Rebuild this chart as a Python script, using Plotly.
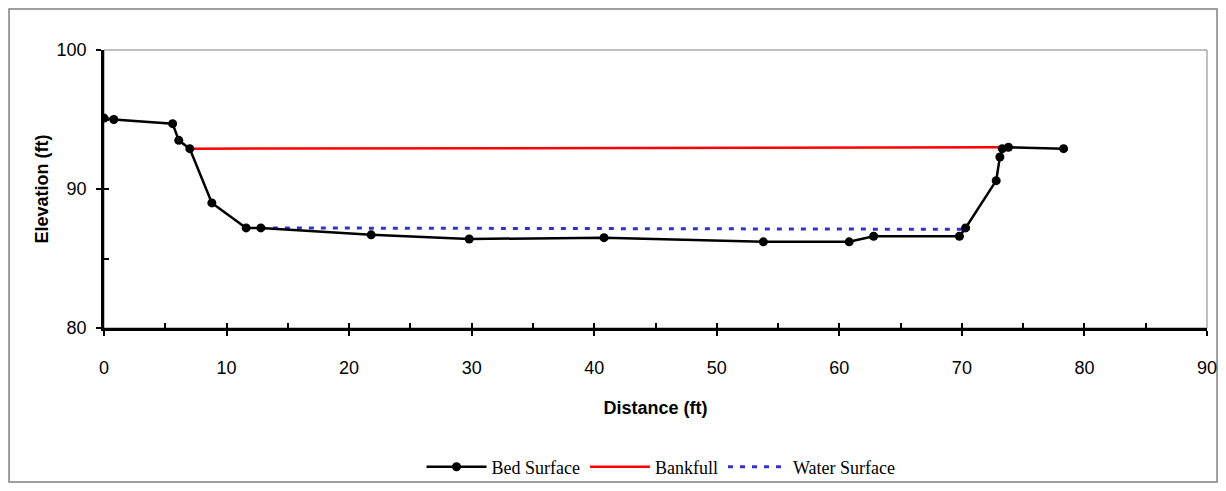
import plotly.graph_objects as go

# Bed surface survey points
distance_ft = [0, 0.8, 5.6, 6.1, 7.0, 8.8, 11.6, 12.8, 21.8, 29.8, 40.8, 53.8,
               60.8, 62.8, 69.8, 70.3, 72.8, 73.1, 73.3, 73.8, 78.3]
elevation_ft = [95.1, 95.0, 94.7, 93.5, 92.9, 89.0, 87.2, 87.2, 86.7, 86.4, 86.5,
                86.2, 86.2, 86.6, 86.6, 87.2, 90.6, 92.3, 92.9, 93.0, 92.9]

# Bankfull line
bankfull_x = [7.0, 73.3]
bankfull_y = [92.9, 93.0]

# Water surface line
water_x = [12.8, 70.3]
water_y = [87.2, 87.1]

x_ticks = [0, 10, 20, 30, 40, 50, 60, 70, 80, 90]
y_ticks = [80, 90, 100]

fig = go.Figure()

fig.add_trace(go.Scatter(
    x=bankfull_x, y=bankfull_y, mode="lines", name="Bankfull",
    line=dict(color="#FF0000", width=2.5), legendrank=2))
fig.add_trace(go.Scatter(
    x=water_x, y=water_y, mode="lines", name="Water Surface",
    line=dict(color="#3333CC", width=3, dash="5px,7px"), legendrank=3))
fig.add_trace(go.Scatter(
    x=distance_ft, y=elevation_ft, mode="lines+markers", name="Bed Surface",
    line=dict(color="#000000", width=2.5),
    marker=dict(color="#000000", size=9), legendrank=1))
# dummy trace to activate overlay axes for inside ticks
fig.add_trace(go.Scatter(x=[None], y=[None], xaxis="x2", yaxis="y2",
                         showlegend=False, hoverinfo="skip"))

axis_font = dict(family="Liberation Sans, Arial", size=18, color="#000000")

fig.update_layout(
    width=1210, height=475,
    margin=dict(l=96, r=11, t=42, b=155, autoexpand=False),
    paper_bgcolor="white", plot_bgcolor="white",
    xaxis=dict(range=[0, 90], tickvals=x_ticks, ticks="outside", ticklen=5,
               tickwidth=2, tickcolor="black", showline=True, linecolor="black",
               linewidth=2.5, showgrid=False, zeroline=False, tickfont=axis_font,
               ticklabelstandoff=17, automargin=False,
               title=dict(text="<b>Distance (ft)</b>", font=axis_font, standoff=25)),
    yaxis=dict(range=[80, 100], tickvals=y_ticks, ticks="outside", ticklen=5,
               tickwidth=2, tickcolor="black", showline=True, linecolor="black",
               linewidth=2.5, showgrid=False, zeroline=False, tickfont=axis_font,
               ticklabelstandoff=6, automargin=False,
               title=dict(text="<b>Elevation (ft)</b>", font=axis_font, standoff=4)),
    xaxis2=dict(range=[0, 90], overlaying="x", anchor="y2", side="bottom",
                dtick=5, tick0=0, ticks="inside", ticklen=5, tickwidth=2,
                tickcolor="black", showticklabels=False, showgrid=False,
                zeroline=False, showline=False, automargin=False),
    yaxis2=dict(range=[80, 100], overlaying="y", anchor="x2", side="left",
                dtick=5, tick0=80, ticks="inside", ticklen=5, tickwidth=2,
                tickcolor="black", showticklabels=False, showgrid=False,
                zeroline=False, showline=False, automargin=False),
    showlegend=True,
    legend=dict(orientation="h", x=0.505, y=-0.50, xanchor="center",
                yanchor="middle", itemwidth=60,
                font=dict(family="Liberation Serif, Times New Roman",
                          size=18, color="#000000"),
                bgcolor="rgba(0,0,0,0)"),
    shapes=[
        # plot area border (top/right)
        dict(type="rect", xref="paper", yref="paper", x0=0, y0=0, x1=1, y1=1,
             line=dict(color="#808080", width=1), layer="below"),
        # outer chart border
        dict(type="rect", xref="paper", yref="paper", x0=-0.0861, y0=-0.5540,
             x1=1.0091, y1=1.1475, line=dict(color="#808080", width=1.5),
             layer="below"),
    ],
)

fig.write_html("out.html")
